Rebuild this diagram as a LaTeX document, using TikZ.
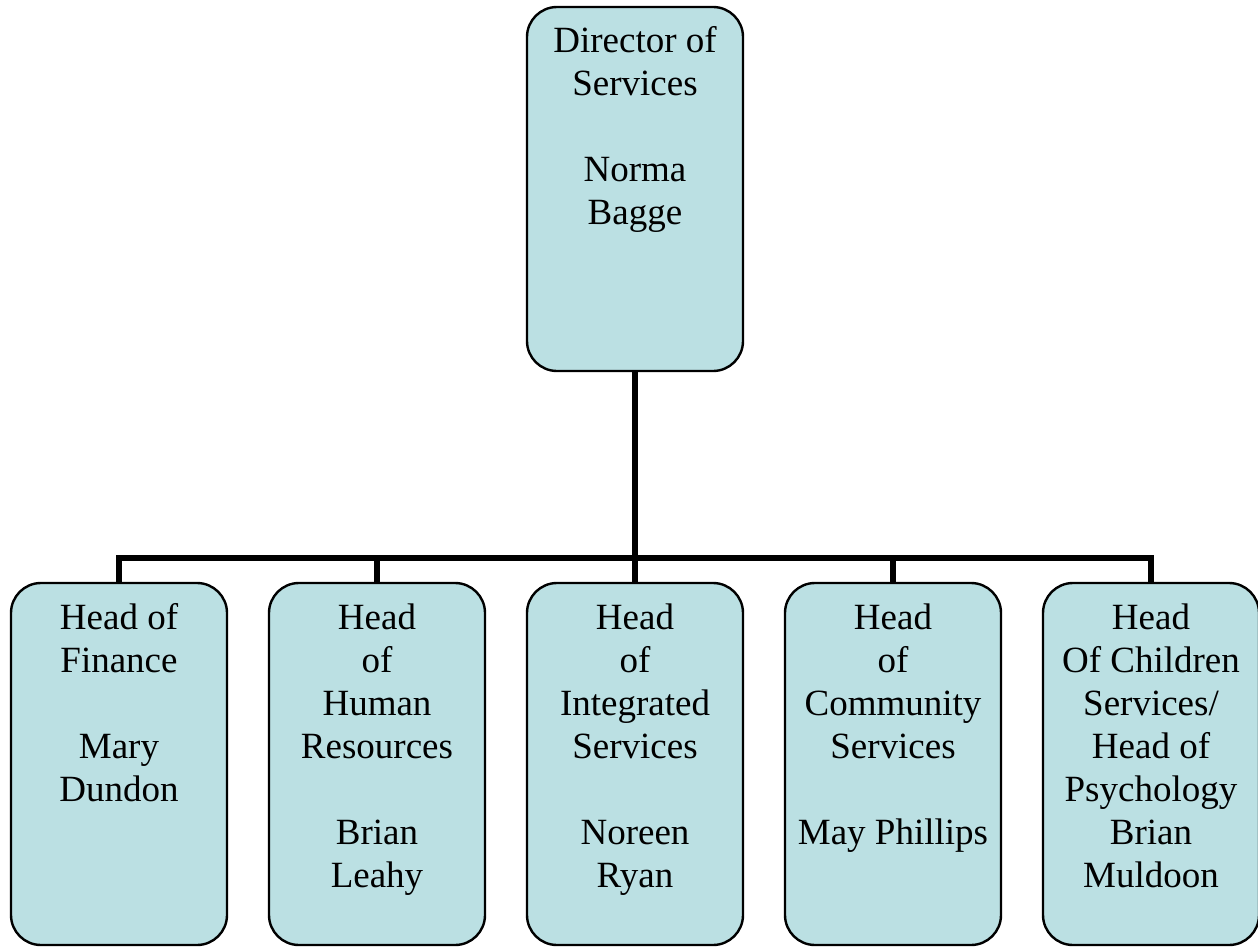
\documentclass[tikz,border=0pt]{standalone}
\usepackage{fontspec}
\setmainfont{Liberation Serif}
\definecolor{boxfill}{HTML}{BBE0E3}
\begin{document}
\begin{tikzpicture}[x=1pt,y=-1pt,
  orgbox/.style={draw=black,line width=2.4pt,fill=boxfill,rounded corners=30pt,
    minimum width=216pt,inner sep=0pt,rectangle},
  topbox/.style={orgbox,minimum height=364pt},
  lowbox/.style={orgbox,minimum height=362pt},
  boxtext/.style={anchor=base,inner sep=0pt,font=\fontsize{37}{43}\selectfont},
  conn/.style={line width=5.5pt}]
\useasboundingbox (0,0) rectangle (1258,947);
\node[topbox] (top) at (635,189) {};
\node[lowbox] (b1) at (119,764) {};
\node[lowbox] (b2) at (377,764) {};
\node[lowbox] (b3) at (635,764) {};
\node[lowbox] (b4) at (893,764) {};
\node[lowbox] (b5) at (1151,764) {};
\coordinate (bus) at (0,558);
\node[boxtext] (ttop) at ([yshift=-47pt]top.north) {\parbox[t]{210pt}{\centering Director of\\Services\\[43pt]Norma\\Bagge}};
\node[boxtext] (t1) at ([yshift=-48pt]b1.north) {\parbox[t]{210pt}{\centering Head of\\Finance\\[43pt]Mary\\Dundon}};
\node[boxtext] (t2) at ([yshift=-48pt]b2.north) {\parbox[t]{210pt}{\centering Head\\of\\Human\\Resources\\[43pt]Brian\\Leahy}};
\node[boxtext] (t3) at ([yshift=-48pt]b3.north) {\parbox[t]{210pt}{\centering Head\\of\\Integrated\\Services\\[43pt]Noreen\\Ryan}};
\node[boxtext] (t4) at ([yshift=-48pt]b4.north) {\parbox[t]{210pt}{\centering Head\\of\\Community\\Services\\[43pt]May Phillips}};
\node[boxtext] (t5) at ([yshift=-48pt]b5.north) {\parbox[t]{210pt}{\centering Head\\Of Children\\Services/\\Head of\\Psychology\\Brian\\Muldoon}};
\draw[conn] (top.south) -- (top.south |- bus);
\draw[conn] (b1.north) -- (b1.north |- bus) -- (b5.north |- bus) -- (b5.north);
\foreach \b in {b2,b3,b4} \draw[conn] (\b.north) -- (\b.north |- bus);
\end{tikzpicture}
\end{document}
